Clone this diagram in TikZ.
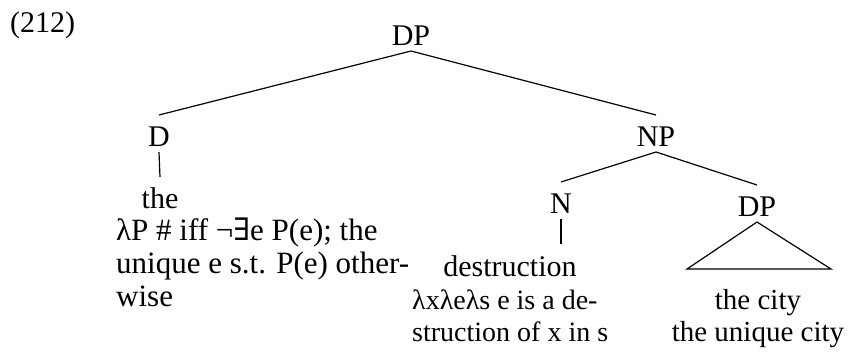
\documentclass[tikz,border=0pt]{standalone}
\usepackage{fontspec}
\setmainfont{Liberation Serif}
\newfontfamily\exfont{DejaVu Serif}
\usetikzlibrary{positioning}
\tikzset{
  cat/.style={anchor=base,inner sep=0pt,outer sep=5pt,text height=27pt,text depth=0pt},
  word/.style={anchor=base,inner sep=0pt,outer sep=10pt},
  sem/.style={anchor=base west,inner sep=0pt,align=left},
  branch/.style={line width=1.2pt}
}
\begin{document}
\begin{tikzpicture}[x=1pt,y=-1pt,every node/.style={font=\fontsize{30}{32}\selectfont}]
  \useasboundingbox (0,0) rectangle (859,358);
  \node[sem] (ex) at (10,33) {(212)};
  % categories
  \node[cat] (dp) at (411,46) {DP};
  \node[cat] (d) at (159,147) {D};
  \node[cat] (np) at (656,147) {NP};
  \node[cat] (n) at (561,214) {N};
  \node[cat] (dpobj) at (757,217) {DP};
  % words and meanings (base = last line)
  \node[word] (the) at (160,208) {the};
  \node[sem,font=\fontsize{31}{33}\selectfont] (themean) at (116,306)
    {λP \# iff ¬{\exfont ∃}e P(e); the\\unique e s.t. P(e) other-\\wise};
  \node[word] (destr) at (510,276) {destruction};
  \node[sem,font=\fontsize{28}{32}\selectfont] (destrmean) at (412,341)
    {λxλeλs e is a de-\\struction of x in s};
  \node[word,align=center,font=\fontsize{29}{32}\selectfont] (city) at (758,341)
    {the city\\the unique city};
  \coordinate (nleg) at (561,244);
  \coordinate (tril) at (687,269);
  \coordinate (trir) at (831,269);
  % branches
  \draw[branch] (d.north) -- (dp.south) -- (np.north);
  \draw[branch] (n.north) -- (np.south) -- (dpobj.north);
  \draw[branch] (d.south) -- (the.north);
  \draw[branch] (n.south) -- (nleg);
  \draw[branch,line join=miter] (dpobj.south) -- (tril) -- (trir) -- cycle;
\end{tikzpicture}
\end{document}
